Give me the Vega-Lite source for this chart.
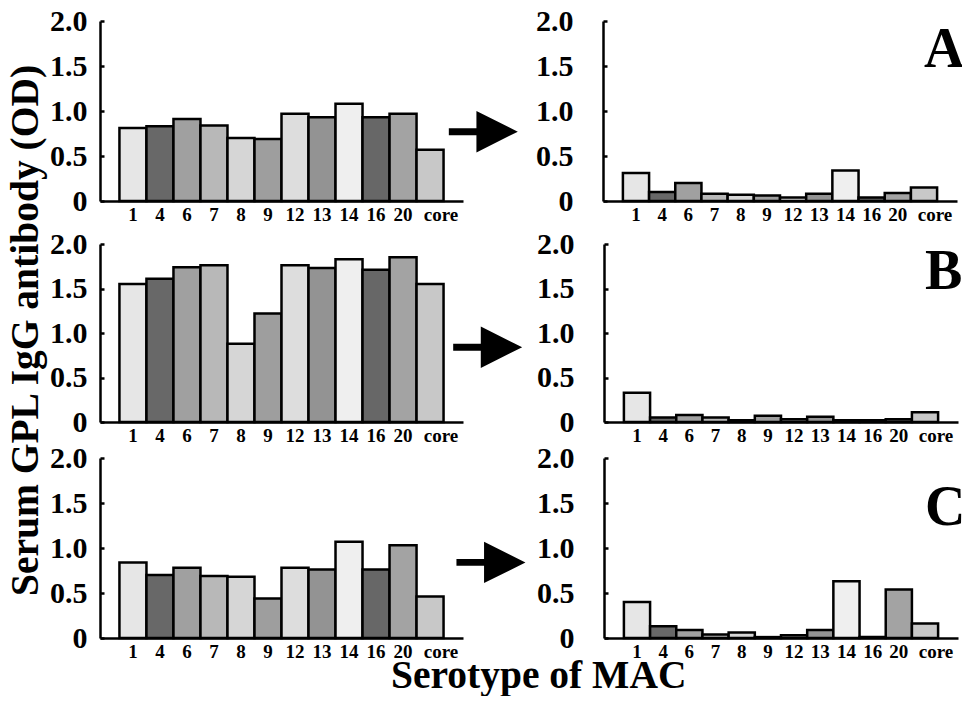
{
  "$schema": "https://vega.github.io/schema/vega-lite/v6.json",
  "background": "white",
  "padding": {"left": 5, "top": 6, "right": 0, "bottom": 0},
  "datasets": {
    "bars": [
      {"panel": "A", "phase": "before", "serotype": "1", "value": 0.81},
      {"panel": "A", "phase": "before", "serotype": "4", "value": 0.83},
      {"panel": "A", "phase": "before", "serotype": "6", "value": 0.91},
      {"panel": "A", "phase": "before", "serotype": "7", "value": 0.84},
      {"panel": "A", "phase": "before", "serotype": "8", "value": 0.70},
      {"panel": "A", "phase": "before", "serotype": "9", "value": 0.69},
      {"panel": "A", "phase": "before", "serotype": "12", "value": 0.97},
      {"panel": "A", "phase": "before", "serotype": "13", "value": 0.93},
      {"panel": "A", "phase": "before", "serotype": "14", "value": 1.08},
      {"panel": "A", "phase": "before", "serotype": "16", "value": 0.93},
      {"panel": "A", "phase": "before", "serotype": "20", "value": 0.97},
      {"panel": "A", "phase": "before", "serotype": "core", "value": 0.57},
      {"panel": "A", "phase": "after", "serotype": "1", "value": 0.31},
      {"panel": "A", "phase": "after", "serotype": "4", "value": 0.10},
      {"panel": "A", "phase": "after", "serotype": "6", "value": 0.20},
      {"panel": "A", "phase": "after", "serotype": "7", "value": 0.08},
      {"panel": "A", "phase": "after", "serotype": "8", "value": 0.07},
      {"panel": "A", "phase": "after", "serotype": "9", "value": 0.06},
      {"panel": "A", "phase": "after", "serotype": "12", "value": 0.04},
      {"panel": "A", "phase": "after", "serotype": "13", "value": 0.08},
      {"panel": "A", "phase": "after", "serotype": "14", "value": 0.34},
      {"panel": "A", "phase": "after", "serotype": "16", "value": 0.04},
      {"panel": "A", "phase": "after", "serotype": "20", "value": 0.09},
      {"panel": "A", "phase": "after", "serotype": "core", "value": 0.15},
      {"panel": "B", "phase": "before", "serotype": "1", "value": 1.55},
      {"panel": "B", "phase": "before", "serotype": "4", "value": 1.61},
      {"panel": "B", "phase": "before", "serotype": "6", "value": 1.74},
      {"panel": "B", "phase": "before", "serotype": "7", "value": 1.76},
      {"panel": "B", "phase": "before", "serotype": "8", "value": 0.88},
      {"panel": "B", "phase": "before", "serotype": "9", "value": 1.22},
      {"panel": "B", "phase": "before", "serotype": "12", "value": 1.76},
      {"panel": "B", "phase": "before", "serotype": "13", "value": 1.73},
      {"panel": "B", "phase": "before", "serotype": "14", "value": 1.83},
      {"panel": "B", "phase": "before", "serotype": "16", "value": 1.71},
      {"panel": "B", "phase": "before", "serotype": "20", "value": 1.85},
      {"panel": "B", "phase": "before", "serotype": "core", "value": 1.55},
      {"panel": "B", "phase": "after", "serotype": "1", "value": 0.33},
      {"panel": "B", "phase": "after", "serotype": "4", "value": 0.05},
      {"panel": "B", "phase": "after", "serotype": "6", "value": 0.08},
      {"panel": "B", "phase": "after", "serotype": "7", "value": 0.05},
      {"panel": "B", "phase": "after", "serotype": "8", "value": 0.02},
      {"panel": "B", "phase": "after", "serotype": "9", "value": 0.07},
      {"panel": "B", "phase": "after", "serotype": "12", "value": 0.03},
      {"panel": "B", "phase": "after", "serotype": "13", "value": 0.06},
      {"panel": "B", "phase": "after", "serotype": "14", "value": 0.02},
      {"panel": "B", "phase": "after", "serotype": "16", "value": 0.02},
      {"panel": "B", "phase": "after", "serotype": "20", "value": 0.03},
      {"panel": "B", "phase": "after", "serotype": "core", "value": 0.11},
      {"panel": "C", "phase": "before", "serotype": "1", "value": 0.84},
      {"panel": "C", "phase": "before", "serotype": "4", "value": 0.70},
      {"panel": "C", "phase": "before", "serotype": "6", "value": 0.78},
      {"panel": "C", "phase": "before", "serotype": "7", "value": 0.69},
      {"panel": "C", "phase": "before", "serotype": "8", "value": 0.68},
      {"panel": "C", "phase": "before", "serotype": "9", "value": 0.44},
      {"panel": "C", "phase": "before", "serotype": "12", "value": 0.78},
      {"panel": "C", "phase": "before", "serotype": "13", "value": 0.76},
      {"panel": "C", "phase": "before", "serotype": "14", "value": 1.07},
      {"panel": "C", "phase": "before", "serotype": "16", "value": 0.76},
      {"panel": "C", "phase": "before", "serotype": "20", "value": 1.03},
      {"panel": "C", "phase": "before", "serotype": "core", "value": 0.46},
      {"panel": "C", "phase": "after", "serotype": "1", "value": 0.40},
      {"panel": "C", "phase": "after", "serotype": "4", "value": 0.13},
      {"panel": "C", "phase": "after", "serotype": "6", "value": 0.09},
      {"panel": "C", "phase": "after", "serotype": "7", "value": 0.04},
      {"panel": "C", "phase": "after", "serotype": "8", "value": 0.06},
      {"panel": "C", "phase": "after", "serotype": "9", "value": 0.01},
      {"panel": "C", "phase": "after", "serotype": "12", "value": 0.03},
      {"panel": "C", "phase": "after", "serotype": "13", "value": 0.09},
      {"panel": "C", "phase": "after", "serotype": "14", "value": 0.63},
      {"panel": "C", "phase": "after", "serotype": "16", "value": 0.01},
      {"panel": "C", "phase": "after", "serotype": "20", "value": 0.54},
      {"panel": "C", "phase": "after", "serotype": "core", "value": 0.16}
    ],
    "arrows": [
      {"panel": "A", "pos": 1.056, "value": 0.77},
      {"panel": "B", "pos": 1.068, "value": 0.84},
      {"panel": "C", "pos": 1.077, "value": 0.84}
    ],
    "letters": [
      {"panel": "A", "serotype": "core", "value": 1.68, "letter": "A"},
      {"panel": "B", "serotype": "core", "value": 1.69, "letter": "B"},
      {"panel": "C", "serotype": "core", "value": 1.44, "letter": "C"}
    ]
  },
  "config": {
    "view": {"stroke": null},
    "title": {"font": "Liberation Serif", "fontSize": 39.5, "fontWeight": "bold", "color": "black"},
    "axis": {"labelFont": "Liberation Serif", "labelFontWeight": "bold", "labelColor": "black", "domainColor": "black", "domainWidth": 2.5, "titleFont": "Liberation Serif", "titleFontWeight": "bold", "titleColor": "black", "grid": false},
    "axisX": {"ticks": false, "labelFontSize": 19, "labelAngle": 0, "labelPadding": 4, "labelOffset": {"condition": {"test": "datum.label == 'core'", "value": 11}, "value": 0}},
    "axisY": {"labelFontSize": 30, "tickColor": "black", "tickWidth": 2.5, "tickSize": -4, "labelBaseline": "middle"}
  },
  "title": {"text": "Serotype of MAC", "orient": "bottom", "anchor": "middle", "offset": -4, "dx": 53},
  "vconcat": [
    {
      "title": {"text": "Serum GPL IgG antibody (OD)", "orient": "left", "anchor": "middle", "offset": 3, "dx": 3},
      "spacing": 5,
      "vconcat": [
        {
          "spacing": 17,
          "hconcat": [
            {
              "width": 363, "height": 180,
              "layer": [
                {"data": {"name": "bars"}, "transform": [{"filter": "datum.panel == 'A' && datum.phase == 'before'"}],
                 "mark": {"type": "bar", "stroke": "black", "strokeWidth": 2.5},
                 "encoding": {
                   "x": {"field": "serotype", "type": "nominal", "scale": {"domain": ["1","4","6","7","8","9","12","13","14","16","20","core"], "paddingInner": 0, "paddingOuter": 0.72}, "axis": {"title": null}},
                   "y": {"field": "value", "type": "quantitative", "scale": {"domain": [0, 2]}, "axis": {"title": null, "values": [0, 0.5, 1, 1.5, 2], "labelExpr": "datum.value == 0 ? '0' : format(datum.value, '.1f')", "labelPadding": 17}},
                   "color": {"field": "serotype", "type": "nominal", "scale": {"domain": ["1","4","6","7","8","9","12","13","14","16","20","core"], "range": ["#e6e6e6","#686868","#a0a0a0","#b8b8b8","#d6d6d6","#9e9e9e","#dddddd","#939393","#efefef","#676767","#a3a3a3","#c8c8c8"]}, "legend": null}
                 }},
                {"data": {"name": "arrows"}, "transform": [{"filter": "datum.panel == 'A'"}],
                 "mark": {"type": "point", "shape": "M-1,-0.1L-0.2,-0.1L-0.2,-0.6L1,0L-0.2,0.6L-0.2,0.1L-1,0.1Z", "filled": true, "size": 4761, "color": "black", "opacity": 1},
                 "encoding": {"x": {"field": "pos", "type": "quantitative", "scale": {"domain": [0, 1]}, "axis": null}, "y": {"field": "value", "type": "quantitative"}}}
              ],
              "resolve": {"scale": {"x": "independent"}}
            },
            {
              "width": 354, "height": 180,
              "layer": [
                {"data": {"name": "bars"}, "transform": [{"filter": "datum.panel == 'A' && datum.phase == 'after'"}],
                 "mark": {"type": "bar", "stroke": "black", "strokeWidth": 2.5},
                 "encoding": {
                   "x": {"field": "serotype", "type": "nominal", "scale": {"domain": ["1","4","6","7","8","9","12","13","14","16","20","core"], "paddingInner": 0, "paddingOuter": 0.76}, "axis": {"title": null}},
                   "y": {"field": "value", "type": "quantitative", "scale": {"domain": [0, 2]}, "axis": {"title": null, "values": [0, 0.5, 1, 1.5, 2], "labelExpr": "datum.value == 0 ? '0' : format(datum.value, '.1f')", "labelPadding": 34}},
                   "color": {"field": "serotype", "type": "nominal", "scale": {"domain": ["1","4","6","7","8","9","12","13","14","16","20","core"], "range": ["#e6e6e6","#686868","#a0a0a0","#b8b8b8","#d6d6d6","#9e9e9e","#dddddd","#939393","#efefef","#676767","#a3a3a3","#c8c8c8"]}, "legend": null}
                 }},
                {"data": {"name": "letters"}, "transform": [{"filter": "datum.panel == 'A'"}],
                 "mark": {"type": "text", "font": "Liberation Serif", "fontSize": 56, "fontWeight": "bold", "align": "left", "baseline": "middle", "color": "black"},
                 "encoding": {"x": {"field": "serotype", "type": "nominal"}, "y": {"field": "value", "type": "quantitative"}, "text": {"field": "letter"}}}
              ]
            }
          ]
        },
        {
          "spacing": -2,
          "vconcat": [
            {
              "spacing": 13,
              "hconcat": [
                {
                  "width": 363, "height": 178,
                  "layer": [
                    {"data": {"name": "bars"}, "transform": [{"filter": "datum.panel == 'B' && datum.phase == 'before'"}],
                     "mark": {"type": "bar", "stroke": "black", "strokeWidth": 2.5},
                     "encoding": {
                       "x": {"field": "serotype", "type": "nominal", "scale": {"domain": ["1","4","6","7","8","9","12","13","14","16","20","core"], "paddingInner": 0, "paddingOuter": 0.72}, "axis": {"title": null}},
                       "y": {"field": "value", "type": "quantitative", "scale": {"domain": [0, 2]}, "axis": {"title": null, "values": [0, 0.5, 1, 1.5, 2], "labelExpr": "datum.value == 0 ? '0' : format(datum.value, '.1f')", "labelPadding": 17}},
                       "color": {"field": "serotype", "type": "nominal", "scale": {"domain": ["1","4","6","7","8","9","12","13","14","16","20","core"], "range": ["#e6e6e6","#686868","#a0a0a0","#b8b8b8","#d6d6d6","#9e9e9e","#dddddd","#939393","#efefef","#676767","#a3a3a3","#c8c8c8"]}, "legend": null}
                     }},
                    {"data": {"name": "arrows"}, "transform": [{"filter": "datum.panel == 'B'"}],
                     "mark": {"type": "point", "shape": "M-1,-0.1L-0.2,-0.1L-0.2,-0.6L1,0L-0.2,0.6L-0.2,0.1L-1,0.1Z", "filled": true, "size": 4761, "color": "black", "opacity": 1},
                     "encoding": {"x": {"field": "pos", "type": "quantitative", "scale": {"domain": [0, 1]}, "axis": null}, "y": {"field": "value", "type": "quantitative"}}}
                  ],
                  "resolve": {"scale": {"x": "independent"}}
                },
                {
                  "width": 354, "height": 178,
                  "layer": [
                    {"data": {"name": "bars"}, "transform": [{"filter": "datum.panel == 'B' && datum.phase == 'after'"}],
                     "mark": {"type": "bar", "stroke": "black", "strokeWidth": 2.5},
                     "encoding": {
                       "x": {"field": "serotype", "type": "nominal", "scale": {"domain": ["1","4","6","7","8","9","12","13","14","16","20","core"], "paddingInner": 0, "paddingOuter": 0.76}, "axis": {"title": null}},
                       "y": {"field": "value", "type": "quantitative", "scale": {"domain": [0, 2]}, "axis": {"title": null, "values": [0, 0.5, 1, 1.5, 2], "labelExpr": "datum.value == 0 ? '0' : format(datum.value, '.1f')", "labelPadding": 34}},
                       "color": {"field": "serotype", "type": "nominal", "scale": {"domain": ["1","4","6","7","8","9","12","13","14","16","20","core"], "range": ["#e6e6e6","#686868","#a0a0a0","#b8b8b8","#d6d6d6","#9e9e9e","#dddddd","#939393","#efefef","#676767","#a3a3a3","#c8c8c8"]}, "legend": null}
                     }},
                    {"data": {"name": "letters"}, "transform": [{"filter": "datum.panel == 'B'"}],
                     "mark": {"type": "text", "font": "Liberation Serif", "fontSize": 56, "fontWeight": "bold", "align": "left", "baseline": "middle", "color": "black"},
                     "encoding": {"x": {"field": "serotype", "type": "nominal"}, "y": {"field": "value", "type": "quantitative"}, "text": {"field": "letter"}}}
                  ]
                }
              ]
            },
            {
              "spacing": 10,
              "hconcat": [
                {
                  "width": 363, "height": 180,
                  "layer": [
                    {"data": {"name": "bars"}, "transform": [{"filter": "datum.panel == 'C' && datum.phase == 'before'"}],
                     "mark": {"type": "bar", "stroke": "black", "strokeWidth": 2.5},
                     "encoding": {
                       "x": {"field": "serotype", "type": "nominal", "scale": {"domain": ["1","4","6","7","8","9","12","13","14","16","20","core"], "paddingInner": 0, "paddingOuter": 0.72}, "axis": {"title": null}},
                       "y": {"field": "value", "type": "quantitative", "scale": {"domain": [0, 2]}, "axis": {"title": null, "values": [0, 0.5, 1, 1.5, 2], "labelExpr": "datum.value == 0 ? '0' : format(datum.value, '.1f')", "labelPadding": 17}},
                       "color": {"field": "serotype", "type": "nominal", "scale": {"domain": ["1","4","6","7","8","9","12","13","14","16","20","core"], "range": ["#e6e6e6","#686868","#a0a0a0","#b8b8b8","#d6d6d6","#9e9e9e","#dddddd","#939393","#efefef","#676767","#a3a3a3","#c8c8c8"]}, "legend": null}
                     }},
                    {"data": {"name": "arrows"}, "transform": [{"filter": "datum.panel == 'C'"}],
                     "mark": {"type": "point", "shape": "M-1,-0.1L-0.2,-0.1L-0.2,-0.6L1,0L-0.2,0.6L-0.2,0.1L-1,0.1Z", "filled": true, "size": 4761, "color": "black", "opacity": 1},
                     "encoding": {"x": {"field": "pos", "type": "quantitative", "scale": {"domain": [0, 1]}, "axis": null}, "y": {"field": "value", "type": "quantitative"}}}
                  ],
                  "resolve": {"scale": {"x": "independent"}}
                },
                {
                  "width": 354, "height": 180,
                  "layer": [
                    {"data": {"name": "bars"}, "transform": [{"filter": "datum.panel == 'C' && datum.phase == 'after'"}],
                     "mark": {"type": "bar", "stroke": "black", "strokeWidth": 2.5},
                     "encoding": {
                       "x": {"field": "serotype", "type": "nominal", "scale": {"domain": ["1","4","6","7","8","9","12","13","14","16","20","core"], "paddingInner": 0, "paddingOuter": 0.76}, "axis": {"title": null}},
                       "y": {"field": "value", "type": "quantitative", "scale": {"domain": [0, 2]}, "axis": {"title": null, "values": [0, 0.5, 1, 1.5, 2], "labelExpr": "datum.value == 0 ? '0' : format(datum.value, '.1f')", "labelPadding": 34}},
                       "color": {"field": "serotype", "type": "nominal", "scale": {"domain": ["1","4","6","7","8","9","12","13","14","16","20","core"], "range": ["#e6e6e6","#686868","#a0a0a0","#b8b8b8","#d6d6d6","#9e9e9e","#dddddd","#939393","#efefef","#676767","#a3a3a3","#c8c8c8"]}, "legend": null}
                     }},
                    {"data": {"name": "letters"}, "transform": [{"filter": "datum.panel == 'C'"}],
                     "mark": {"type": "text", "font": "Liberation Serif", "fontSize": 56, "fontWeight": "bold", "align": "left", "baseline": "middle", "color": "black"},
                     "encoding": {"x": {"field": "serotype", "type": "nominal"}, "y": {"field": "value", "type": "quantitative"}, "text": {"field": "letter"}}}
                  ]
                }
              ]
            }
          ]
        }
      ]
    }
  ]
}
